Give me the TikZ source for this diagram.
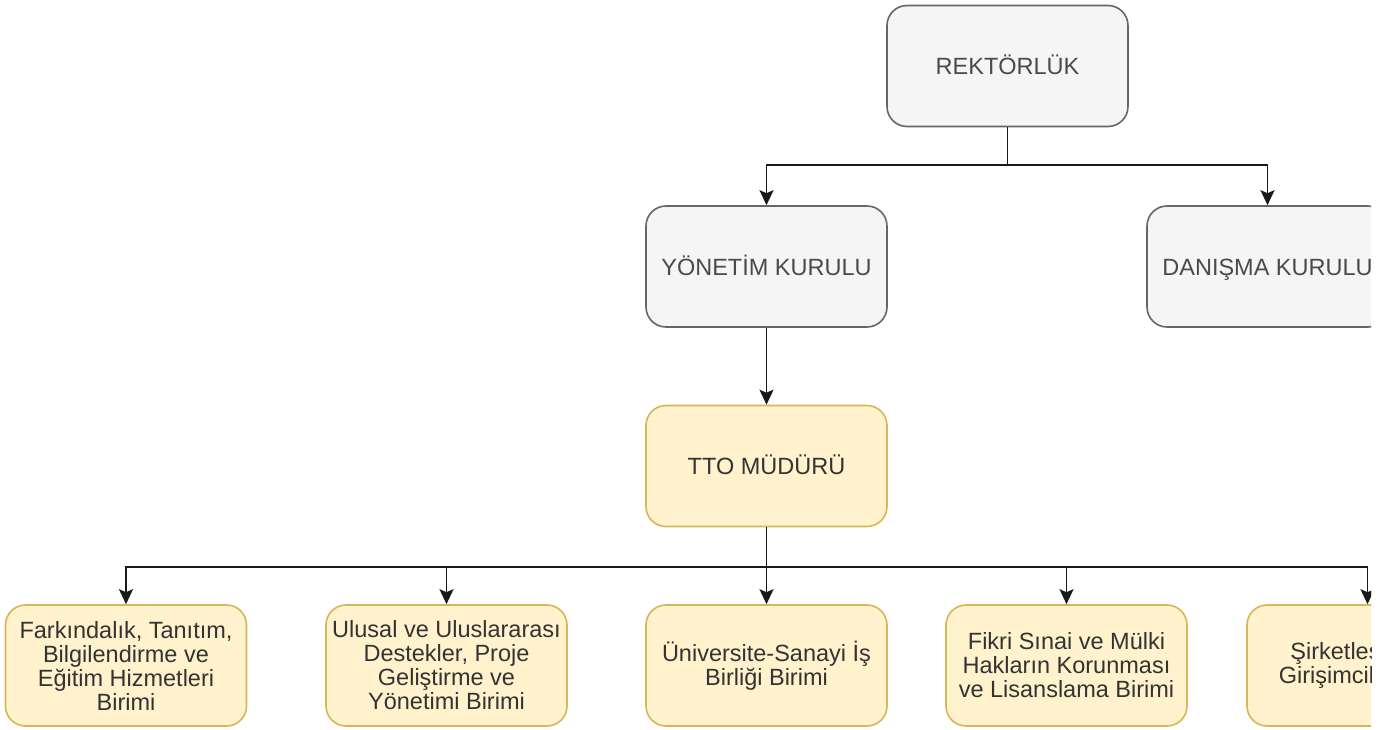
\documentclass[tikz,border=0pt]{standalone}
\usepackage{fontspec}
\setmainfont{Liberation Sans}
\usetikzlibrary{arrows.meta}

\definecolor{grayFill}{HTML}{F5F5F5}
\definecolor{grayLine}{HTML}{666666}
\definecolor{grayText}{HTML}{4A4A4A}
\definecolor{yellowFill}{HTML}{FFF2CC}
\definecolor{yellowLine}{HTML}{D6B656}
\definecolor{yellowText}{HTML}{333333}

\def \boxSizeX{241}
\def \boxSizeY{121}
\def \rectorCenterX{1007.5}
\def \rectorCenterY{66}
\def \boardCenterX{766.5}
\def \boardCenterY{266.5}
\def \adviceCenterX{1267.5}
\def \adviceCenterY{266.5}
\def \managerCenterX{766.5}
\def \managerCenterY{466}
\def \unitCenterY{665.5}
\def \topBusY{165}
\def \lowBusY{567}

\tikzset{
  grayBox/.style={draw=grayLine, fill=grayFill, text=grayText, line width=1.6pt, rounded corners=20pt,
    minimum width=\boxSizeX pt, minimum height=\boxSizeY pt, inner sep=0pt, align=center,
    font=\fontsize{23.5}{24}\selectfont},
  yellowBox/.style={grayBox, draw=yellowLine, fill=yellowFill, text=yellowText},
  oneLine/.style={text height=17pt, text depth=0pt},
  flux/.style={line width=1.8pt, draw=black!90, -{Stealth[length=15pt, width=14pt, inset=3pt]}}
}

\begin{document}
\begin{tikzpicture}[x=1pt, y=-1pt]
\begin{scope}
\clip (0,0) rectangle (1371,729);
% ---- Top boxes
\node[grayBox, oneLine] (rector) at (\rectorCenterX, \rectorCenterY) {REKTÖRLÜK};
\node[grayBox, oneLine] (board) at (\boardCenterX, \boardCenterY) {YÖNETİM KURULU};
\node[grayBox, oneLine] (advice) at (\adviceCenterX, \adviceCenterY) {DANIŞMA KURULU};
% ---- Manager
\node[yellowBox, oneLine] (manager) at (\managerCenterX, \managerCenterY) {TTO MÜDÜRÜ};
% ---- Units
\node[yellowBox] (unitA) at (126, \unitCenterY) {Farkındalık, Tanıtım,\\Bilgilendirme ve\\Eğitim Hizmetleri\\Birimi};
\node[yellowBox] (unitB) at (446.5, \unitCenterY) {Ulusal ve Uluslararası\\Destekler, Proje\\Geliştirme ve\\Yönetimi Birimi};
\node[yellowBox] (unitC) at (766.5, \unitCenterY) {Üniversite-Sanayi İş\\Birliği Birimi};
\node[yellowBox] (unitD) at (1066.5, \unitCenterY) {Fikri Sınai ve Mülki\\Hakların Korunması\\ve Lisanslama Birimi};
\node[yellowBox] (unitE) at (1367.5, \unitCenterY) {Şirketleşme ve\\Girişimcilik Birimi};

% Flux
\coordinate (topBus) at (\rectorCenterX, \topBusY);
\coordinate (lowBus) at (\managerCenterX, \lowBusY);
\draw[flux] (rector.south) -- (topBus) -| (board.north);
\draw[flux] (rector.south) -- (topBus) -| (advice.north);
\draw[flux] (board.south) -- (manager.north);
\foreach \unit in {unitA, unitB, unitC, unitD, unitE}
  \draw[flux] (manager.south) -- (lowBus) -| (\unit.north);
\end{scope}
\pgfresetboundingbox
\useasboundingbox (0,0) rectangle (1385,729);
\end{tikzpicture}
\end{document}
